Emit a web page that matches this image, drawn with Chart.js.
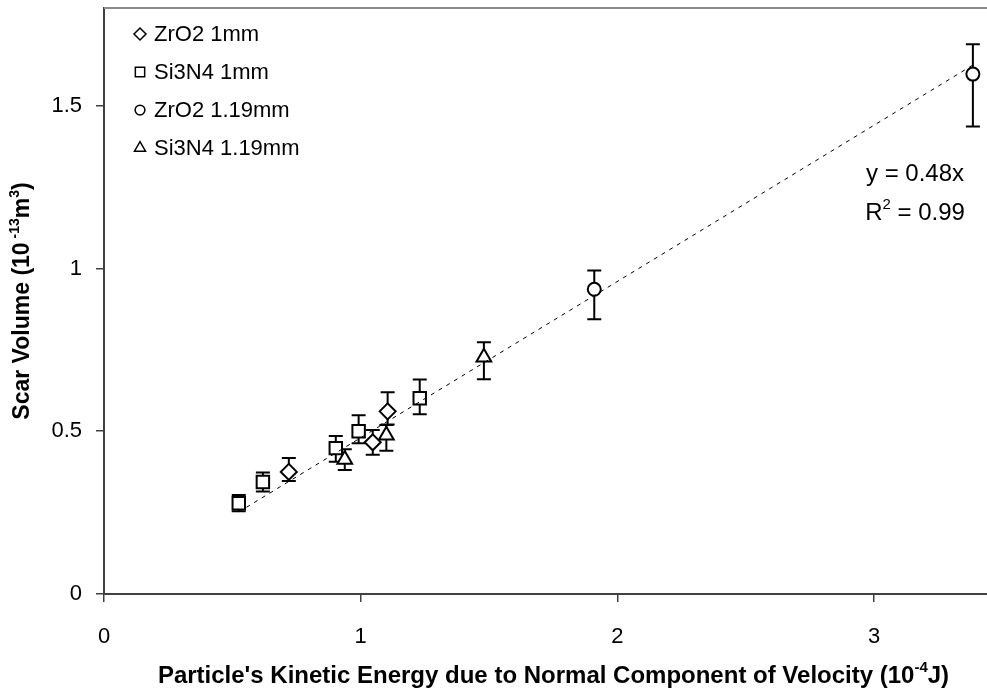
<!DOCTYPE html>
<html>
<head>
<meta charset="utf-8">
<title>Scar volume vs kinetic energy</title>
<script src="https://cdn.jsdelivr.net/npm/chart.js@4.4.1/dist/chart.umd.min.js"></script>
<style>
  html, body { margin: 0; padding: 0; background: #fff; }
  canvas { display: block; }
</style>
</head>
<body>
<canvas id="chart" width="987" height="694"></canvas>
<script>
// ZrO2 1mm
const zro2SmallX = [0.72, 1.047, 1.105];
const zro2SmallY = [0.375, 0.466, 0.561];
const zro2SmallUp = [0.043, 0.038, 0.059];
const zro2SmallDown = [0.028, 0.038, 0.04];

// Si3N4 1mm
const si3n4SmallX = [0.525, 0.619, 0.903, 0.992, 1.23];
const si3n4SmallY = [0.279, 0.344, 0.448, 0.5, 0.601];
const si3n4SmallUp = [0.025, 0.029, 0.037, 0.049, 0.058];
const si3n4SmallDown = [0.025, 0.029, 0.042, 0.037, 0.049];

// ZrO2 1.19mm
const zro2LargeX = [1.91, 3.385];
const zro2LargeY = [0.936, 1.597];
const zro2LargeUp = [0.058, 0.092];
const zro2LargeDown = [0.092, 0.161];

// Si3N4 1.19mm
const si3n4LargeX = [0.938, 1.10, 1.48];
const si3n4LargeY = [0.413, 0.488, 0.727];
const si3n4LargeUp = [0.032, 0.031, 0.046];
const si3n4LargeDown = [0.032, 0.048, 0.067];

// linear fit through the origin
const fitSlope = 0.48;
const fitR2 = 0.99;

const xTicks = [0, 1, 2, 3];
const yTicks = [0, 0.5, 1, 1.5];

const FONT = "'Liberation Sans', Arial, Helvetica, sans-serif";

function pairs(xs, ys, up, down) {
  return xs.map((x, i) => ({ x, y: ys[i], up: up[i], down: down[i] }));
}

const series = [
  { label: 'ZrO2 1mm', style: 'rectRot', radius: 8, data: pairs(zro2SmallX, zro2SmallY, zro2SmallUp, zro2SmallDown) },
  { label: 'Si3N4 1mm', style: 'rect', radius: 8.8, data: pairs(si3n4SmallX, si3n4SmallY, si3n4SmallUp, si3n4SmallDown) },
  { label: 'ZrO2 1.19mm', style: 'circle', radius: 6.5, data: pairs(zro2LargeX, zro2LargeY, zro2LargeUp, zro2LargeDown) },
  { label: 'Si3N4 1.19mm', style: 'triangle', radius: 8.5, data: pairs(si3n4LargeX, si3n4LargeY, si3n4LargeUp, si3n4LargeDown) }
];

const allX = [].concat(zro2SmallX, si3n4SmallX, zro2LargeX, si3n4LargeX);
const fitX = [Math.min(...allX), Math.max(...allX)];
const fitLine = fitX.map(x => ({ x, y: fitSlope * x }));

// text with superscript pieces: parts = [[text, isSup], ...]
function drawRich(ctx, parts, x, y, size, weight, align) {
  const base = `${weight} ${size}px ${FONT}`;
  const sup = `${weight} ${Math.round(size * 0.62)}px ${FONT}`;
  let total = 0;
  parts.forEach(([t, s]) => { ctx.font = s ? sup : base; total += ctx.measureText(t).width; });
  let cx = align === 'center' ? x - total / 2 : x;
  ctx.textAlign = 'left';
  ctx.textBaseline = 'middle';
  parts.forEach(([t, s]) => {
    ctx.font = s ? sup : base;
    ctx.fillText(t, cx, s ? y - size * 0.36 : y);
    cx += ctx.measureText(t).width;
  });
}

const errorBars = {
  id: 'errorBars',
  beforeDatasetsDraw(chart) {
    const { ctx, scales: { x, y } } = chart;
    ctx.save();
    ctx.strokeStyle = '#000';
    ctx.lineWidth = 2;
    chart.data.datasets.forEach(ds => {
      if (ds.type === 'line') return;
      ds.data.forEach(p => {
        const px = x.getPixelForValue(p.x);
        const top = y.getPixelForValue(p.y + p.up);
        const bot = y.getPixelForValue(p.y - p.down);
        ctx.beginPath();
        ctx.moveTo(px, top); ctx.lineTo(px, bot);
        ctx.moveTo(px - 7, top); ctx.lineTo(px + 7, top);
        ctx.moveTo(px - 7, bot); ctx.lineTo(px + 7, bot);
        ctx.stroke();
      });
    });
    ctx.restore();
  }
};

const decorations = {
  id: 'decorations',
  afterDraw(chart) {
    const { ctx, chartArea: a } = chart;
    ctx.save();

    // plot frame top edge
    ctx.strokeStyle = '#8c8c8c';
    ctx.lineWidth = 2;
    ctx.beginPath();
    ctx.moveTo(a.left, a.top);
    ctx.lineTo(a.right, a.top);
    ctx.stroke();

    // legend
    series.forEach((s, i) => {
      const ly = a.top + 26 + i * 38;
      ctx.strokeStyle = '#000';
      ctx.fillStyle = '#fff';
      ctx.lineWidth = 1.5;
      Chart.helpers.drawPoint(ctx, { pointStyle: s.style, radius: s.radius * 0.75, borderWidth: 1.5, rotation: 0 }, a.left + 36, ly);
      ctx.fillStyle = '#000';
      ctx.font = `22px ${FONT}`;
      ctx.textAlign = 'left';
      ctx.textBaseline = 'middle';
      ctx.fillText(s.label, a.left + 50, ly + 1);
    });

    // fit equation
    ctx.fillStyle = '#000';
    drawRich(ctx, [[`y = ${fitSlope}x`, false]], a.right - 72, a.top + 166, 24, 'normal', 'center');
    drawRich(ctx, [['R', false], ['2', true], [` = ${fitR2}`, false]], a.right - 72, a.top + 205, 24, 'normal', 'center');

    // axis titles
    ctx.save();
    ctx.translate(23, (a.top + a.bottom) / 2);
    ctx.rotate(-Math.PI / 2);
    drawRich(ctx, [['Scar Volume (10', false], [' -13', true], ['m', false], ['3', true], [')', false]], 0, 0, 23, 'bold', 'center');
    ctx.restore();

    drawRich(ctx, [["Particle's Kinetic Energy due to Normal Component of Velocity (10", false], ['-4', true], ['J)', false]],
      (a.left + a.right) / 2 + 8, 676, 24, 'bold', 'center');

    ctx.restore();
  }
};

const datasets = series.map(s => ({
  type: 'scatter',
  label: s.label,
  data: s.data,
  pointStyle: s.style,
  pointRadius: s.radius,
  pointHoverRadius: s.radius,
  borderColor: '#000',
  backgroundColor: '#fff',
  borderWidth: 2,
  order: 1
}));

datasets.push({
  type: 'line',
  label: 'fit',
  data: fitLine,
  borderColor: '#000',
  borderWidth: 1,
  borderDash: [4, 5],
  pointRadius: 0,
  fill: false,
  order: 0
});

new Chart(document.getElementById('chart'), {
  data: { datasets },
  options: {
    responsive: false,
    devicePixelRatio: 1,
    animation: false,
    layout: { autoPadding: false, padding: { top: 8, right: 0, left: 0, bottom: 0 } },
    plugins: { legend: { display: false }, tooltip: { enabled: false } },
    scales: {
      x: {
        type: 'linear',
        min: 0,
        max: 3.44,
        afterBuildTicks: s => { s.ticks = xTicks.map(v => ({ value: v })); },
        afterFit: s => { s.height = 100; s.paddingLeft = 0; s.paddingRight = 0; },
        grid: { drawOnChartArea: false, drawTicks: true, tickLength: 8, color: '#404040', lineWidth: 1.5 },
        border: { display: true, color: '#404040', width: 2 },
        ticks: { color: '#000', font: { family: FONT, size: 22 }, padding: 22, maxRotation: 0, callback: v => String(v) }
      },
      y: {
        type: 'linear',
        min: 0,
        max: 1.8,
        afterBuildTicks: s => { s.ticks = yTicks.map(v => ({ value: v })); },
        afterFit: s => { s.width = 104; s.paddingTop = 0; s.paddingBottom = 0; },
        grid: { drawOnChartArea: false, drawTicks: true, tickLength: 8, color: '#404040', lineWidth: 1.5 },
        border: { display: true, color: '#404040', width: 2 },
        ticks: { color: '#000', font: { family: FONT, size: 22 }, padding: 14, callback: v => String(v) }
      }
    }
  },
  plugins: [errorBars, decorations]
});
</script>
</body>
</html>
